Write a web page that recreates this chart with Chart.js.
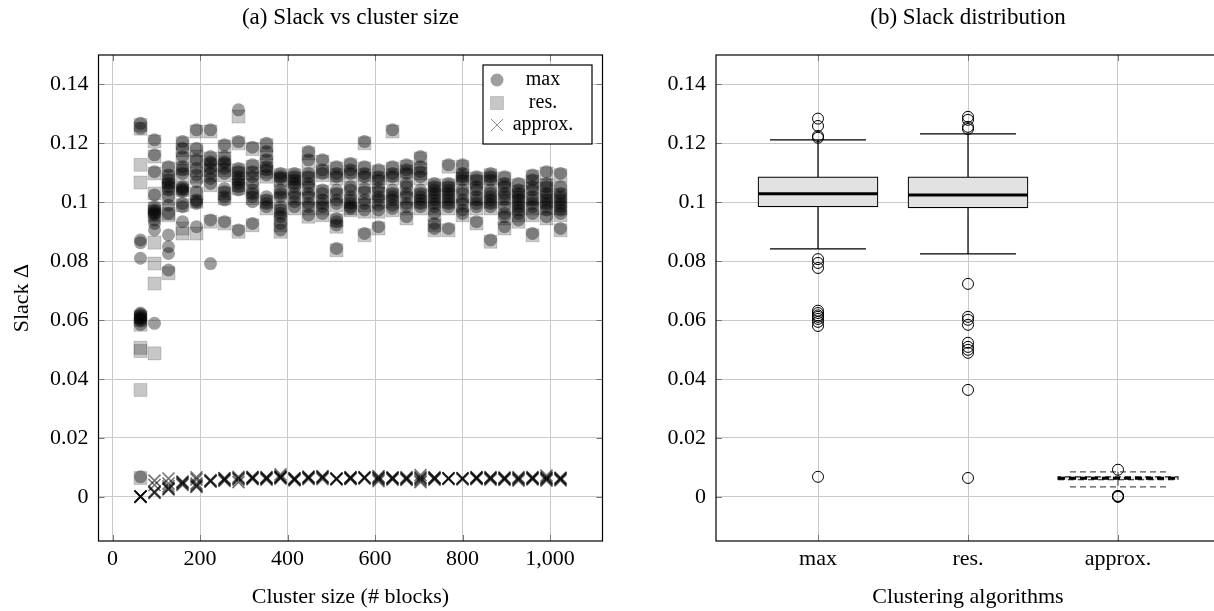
<!DOCTYPE html>
<html><head><meta charset="utf-8">
<script src="https://cdn.jsdelivr.net/npm/chart.js@4/dist/chart.umd.min.js"></script>
<style>
html,body{margin:0;padding:0;background:#fff;overflow:hidden;width:1214px;height:611px;}
#wrapA{position:absolute;left:0;top:0;width:620px;height:611px;}
#wrapB{position:absolute;left:620px;top:0;width:640px;height:611px;}
</style></head><body>
<div id="wrapA"><canvas id="a" width="620" height="611"></canvas></div>
<div id="wrapB"><canvas id="b" width="640" height="611"></canvas></div>
<script>
// ---------- data: (a) slack vs cluster size ----------
const sizes = [64, 96, 128, 160, 192, 224, 256, 288, 320, 352, 384, 416, 448, 480, 512, 544,
               576, 608, 640, 672, 704, 736, 768, 800, 832, 864, 896, 928, 960, 992, 1024];
const maxSlack = [
  [0.1268, 0.1251, 0.0872, 0.0863, 0.0810, 0.0624, 0.0620, 0.0616, 0.0610, 0.0606, 0.0603, 0.0597, 0.0585, 0.0068],
  [0.1212, 0.1161, 0.1104, 0.1025, 0.0985, 0.0974, 0.0968, 0.0962, 0.0957, 0.0940, 0.0928, 0.0906, 0.0589],
  [0.1121, 0.1093, 0.1076, 0.1064, 0.1053, 0.1042, 0.1019, 0.0990, 0.0962, 0.0889, 0.0849, 0.0826, 0.0770],
  [0.1206, 0.1183, 0.1155, 0.1121, 0.1110, 0.1098, 0.1053, 0.1047, 0.1042, 0.1036, 0.0996, 0.0985, 0.0934],
  [0.1246, 0.1183, 0.1144, 0.1115, 0.1093, 0.1070, 0.1036, 0.1008, 0.1002, 0.0996, 0.0917],
  [0.1246, 0.1155, 0.1138, 0.1132, 0.1115, 0.1098, 0.1081, 0.1064, 0.0940, 0.0792],
  [0.1195, 0.1155, 0.1138, 0.1132, 0.1115, 0.1098, 0.1047, 0.1036, 0.1019, 0.1008, 0.0934],
  [0.1314, 0.1206, 0.1115, 0.1104, 0.1087, 0.1075, 0.1064, 0.1053, 0.1042, 0.0906],
  [0.1187, 0.1127, 0.1104, 0.1087, 0.1064, 0.1042, 0.1030, 0.1019, 0.1002, 0.0928],
  [0.1200, 0.1172, 0.1144, 0.1121, 0.1110, 0.1093, 0.1019, 0.1008, 0.0996, 0.0985],
  [0.1098, 0.1087, 0.1081, 0.1042, 0.1030, 0.1019, 0.0985, 0.0974, 0.0962, 0.0951, 0.0928, 0.0906],
  [0.1098, 0.1087, 0.1076, 0.1064, 0.1053, 0.1030, 0.1019, 0.1002, 0.0985],
  [0.1172, 0.1144, 0.1098, 0.1087, 0.1064, 0.1053, 0.1030, 0.1019, 0.0996, 0.0985, 0.0957],
  [0.1144, 0.1110, 0.1098, 0.1042, 0.1030, 0.1008, 0.0996, 0.0985, 0.0962],
  [0.1121, 0.1098, 0.1087, 0.1042, 0.1030, 0.1008, 0.0996, 0.0945, 0.0934, 0.0923, 0.0843],
  [0.1132, 0.1110, 0.1098, 0.1053, 0.1042, 0.1019, 0.1008, 0.0996, 0.0985, 0.0979],
  [0.1206, 0.1121, 0.1098, 0.1087, 0.1047, 0.1036, 0.1008, 0.0996, 0.0974, 0.0894],
  [0.1110, 0.1087, 0.1076, 0.1047, 0.1036, 0.1019, 0.1008, 0.0990, 0.0974, 0.0917],
  [0.1246, 0.1121, 0.1098, 0.1087, 0.1042, 0.1030, 0.1019, 0.1008, 0.0990, 0.0979],
  [0.1127, 0.1110, 0.1098, 0.1064, 0.1053, 0.1030, 0.1019, 0.0996, 0.0985, 0.0951],
  [0.1155, 0.1121, 0.1104, 0.1087, 0.1042, 0.1030, 0.1019, 0.1008, 0.0996, 0.0985],
  [0.1064, 0.1053, 0.1042, 0.1030, 0.1019, 0.1008, 0.0996, 0.0985, 0.0962, 0.0928, 0.0911],
  [0.1127, 0.1064, 0.1053, 0.1042, 0.1030, 0.1019, 0.1008, 0.0996, 0.0985, 0.0911],
  [0.1127, 0.1098, 0.1087, 0.1076, 0.1042, 0.1030, 0.1008, 0.0996, 0.0974, 0.0962],
  [0.1087, 0.1076, 0.1053, 0.1042, 0.1019, 0.1008, 0.0996, 0.0985, 0.0934],
  [0.1098, 0.1087, 0.1076, 0.1042, 0.1030, 0.1019, 0.1008, 0.0996, 0.0985, 0.0872],
  [0.1087, 0.1064, 0.1053, 0.1030, 0.1019, 0.1008, 0.0985, 0.0962, 0.0951, 0.0917],
  [0.1064, 0.1042, 0.1030, 0.1019, 0.1008, 0.0996, 0.0985, 0.0974, 0.0962, 0.0940],
  [0.1093, 0.1076, 0.1053, 0.1042, 0.1019, 0.1008, 0.0996, 0.0985, 0.0962, 0.0894],
  [0.1104, 0.1064, 0.1053, 0.1030, 0.1019, 0.1008, 0.0996, 0.0985, 0.0974, 0.0951],
  [0.1098, 0.1053, 0.1030, 0.1019, 0.1008, 0.0996, 0.0985, 0.0974, 0.0962, 0.0911]
];
const resSlack = [
  [0.1262, 0.1250, 0.1127, 0.1067, 0.0610, 0.0601, 0.0584, 0.0506, 0.0495, 0.0363, 0.0064],
  [0.1206, 0.1155, 0.1098, 0.1030, 0.0979, 0.0968, 0.0957, 0.0863, 0.0792, 0.0724, 0.0487],
  [0.1115, 0.1087, 0.1070, 0.1058, 0.1047, 0.1013, 0.0962, 0.0956, 0.0759],
  [0.1200, 0.1177, 0.1149, 0.1115, 0.1092, 0.1047, 0.1041, 0.0990, 0.0911, 0.0894],
  [0.1240, 0.1177, 0.1155, 0.1138, 0.1109, 0.1087, 0.1030, 0.1002, 0.0894],
  [0.1240, 0.1149, 0.1126, 0.1109, 0.1092, 0.1058, 0.0934],
  [0.1189, 0.1149, 0.1126, 0.1109, 0.1092, 0.1030, 0.1013, 0.0928],
  [0.1291, 0.1200, 0.1109, 0.1098, 0.1081, 0.1058, 0.1047, 0.0900],
  [0.1181, 0.1121, 0.1098, 0.1081, 0.1036, 0.1013, 0.0922],
  [0.1194, 0.1166, 0.1138, 0.1115, 0.1104, 0.1087, 0.1002, 0.0979],
  [0.1092, 0.1081, 0.1075, 0.1036, 0.1013, 0.0968, 0.0945, 0.0922, 0.0900],
  [0.1092, 0.1081, 0.1070, 0.1047, 0.1013, 0.0979],
  [0.1166, 0.1138, 0.1092, 0.1081, 0.1047, 0.1013, 0.0979, 0.0951],
  [0.1138, 0.1104, 0.1092, 0.1036, 0.1002, 0.0979, 0.0956],
  [0.1115, 0.1092, 0.1081, 0.1024, 0.0990, 0.0939, 0.0917, 0.0837],
  [0.1126, 0.1104, 0.1092, 0.1047, 0.1002, 0.0979, 0.0973],
  [0.1200, 0.1115, 0.1092, 0.1081, 0.1030, 0.0990, 0.0968, 0.0888],
  [0.1104, 0.1081, 0.1070, 0.1030, 0.1002, 0.0968, 0.0911],
  [0.1240, 0.1115, 0.1092, 0.1081, 0.1024, 0.1002, 0.0973],
  [0.1121, 0.1104, 0.1092, 0.1047, 0.1013, 0.0979, 0.0945],
  [0.1149, 0.1115, 0.1098, 0.1081, 0.1024, 0.1002, 0.0979],
  [0.1058, 0.1047, 0.1024, 0.1002, 0.0979, 0.0956, 0.0922, 0.0905],
  [0.1121, 0.1058, 0.1047, 0.1024, 0.1002, 0.0979, 0.0905],
  [0.1121, 0.1092, 0.1081, 0.1070, 0.1024, 0.0990, 0.0956],
  [0.1081, 0.1070, 0.1047, 0.1013, 0.0979, 0.0928],
  [0.1092, 0.1081, 0.1070, 0.1024, 0.1002, 0.0979, 0.0866],
  [0.1081, 0.1058, 0.1047, 0.1013, 0.0979, 0.0945, 0.0911],
  [0.1058, 0.1036, 0.1024, 0.1002, 0.0979, 0.0956, 0.0934],
  [0.1087, 0.1070, 0.1047, 0.1013, 0.0979, 0.0956, 0.0888],
  [0.1098, 0.1058, 0.1047, 0.1024, 0.1002, 0.0979, 0.0945],
  [0.1092, 0.1047, 0.1024, 0.1002, 0.0979, 0.0956, 0.0905]
];
const approxSlack = [
  [0.0000, 0.0001, 0.0002, 0.0000, 0.0001],
  [0.0013, 0.0015, 0.0018, 0.0040, 0.0055],
  [0.0025, 0.0027, 0.0030, 0.0036, 0.0045, 0.0062],
  [0.0040, 0.0044, 0.0047, 0.0050, 0.0052],
  [0.0034, 0.0036, 0.0040, 0.0045, 0.0059, 0.0066],
  [0.0051, 0.0053, 0.0055, 0.0057],
  [0.0054, 0.0057, 0.0059, 0.0062, 0.0064],
  [0.0050, 0.0058, 0.0062, 0.0064, 0.0068],
  [0.0060, 0.0062, 0.0064, 0.0066, 0.0068],
  [0.0058, 0.0061, 0.0063, 0.0065, 0.0067],
  [0.0062, 0.0065, 0.0066, 0.0068, 0.0070, 0.0076],
  [0.0056, 0.0058, 0.0060, 0.0062, 0.0064],
  [0.0060, 0.0063, 0.0065, 0.0067, 0.0069],
  [0.0060, 0.0064, 0.0066, 0.0068, 0.0070],
  [0.0059, 0.0060, 0.0062, 0.0063],
  [0.0060, 0.0062, 0.0064, 0.0066, 0.0067],
  [0.0062, 0.0064, 0.0066, 0.0067],
  [0.0053, 0.0058, 0.0061, 0.0064, 0.0066, 0.0070],
  [0.0058, 0.0061, 0.0063, 0.0065, 0.0066],
  [0.0057, 0.0060, 0.0062, 0.0064, 0.0067],
  [0.0050, 0.0056, 0.0060, 0.0064, 0.0067, 0.0074],
  [0.0058, 0.0061, 0.0063, 0.0065, 0.0066],
  [0.0060, 0.0062, 0.0063, 0.0064],
  [0.0059, 0.0061, 0.0063, 0.0064],
  [0.0060, 0.0062, 0.0064, 0.0066, 0.0067],
  [0.0058, 0.0061, 0.0063, 0.0065, 0.0067],
  [0.0057, 0.0060, 0.0062, 0.0064, 0.0066],
  [0.0055, 0.0059, 0.0061, 0.0064, 0.0067],
  [0.0059, 0.0061, 0.0063, 0.0065, 0.0067],
  [0.0055, 0.0059, 0.0061, 0.0064, 0.0066, 0.0072],
  [0.0056, 0.0059, 0.0061, 0.0063, 0.0065]
];
const xTickValues = [0, 200, 400, 600, 800, 1000];
const xTickLabels = ['0', '200', '400', '600', '800', '1,000'];
const yTickValues = [0, 0.02, 0.04, 0.06, 0.08, 0.1, 0.12, 0.14];
const yTickLabels = ['0', '0.02', '0.04', '0.06', '0.08', '0.1', '0.12', '0.14'];
const seriesNames = ['max', 'res.', 'approx.'];

// ---------- data: (b) slack distribution ----------
const boxLabels = ['max', 'res.', 'approx.'];
const boxPos = [1, 2, 3];
const boxQ1 = [0.0984, 0.0981, 0.0058];
const boxMedian = [0.1029, 0.1025, 0.0063];
const boxQ3 = [0.1086, 0.1086, 0.0068];
const whiskerLow = [0.0842, 0.0825, 0.0034];
const whiskerHigh = [0.1212, 0.1232, 0.0085];
const maxOutliers = [0.1284, 0.1259, 0.1225, 0.1219, 0.0807, 0.0794, 0.0777, 0.0632, 0.0624, 0.0616, 0.0611, 0.0604, 0.0594, 0.0580, 0.0068];
const resOutliers = [0.1290, 0.1280, 0.1256, 0.1249, 0.0723, 0.0611, 0.0601, 0.0584, 0.0523, 0.0509, 0.0499, 0.0489, 0.0363, 0.0064];
const approxOutliers = [0.0092, 0.0003, 0.0001, 0.0000, 0.0002];

// ---------- styling ----------
const FONT = "'Liberation Serif', 'Times New Roman', serif";
const GRID = '#c9c9c9';
const Y_MIN = -0.015, Y_MAX = 0.15;
const BOX_HALF = 0.4, CAP_HALF = 0.32;

function flatten(cols) {
  const pts = [];
  cols.forEach((vals, i) => vals.forEach(v => pts.push({ x: sizes[i], y: v })));
  return pts;
}

const framePlugin = {
  id: 'frame',
  afterDatasetsDraw(chart) {
    const { ctx, chartArea: a, scales } = chart;
    ctx.save();
    ctx.strokeStyle = '#777'; ctx.lineWidth = 1;
    ctx.beginPath();
    scales.x.ticks.forEach(t => {
      const px = Math.round(scales.x.getPixelForValue(t.value)) + 0.5;
      ctx.moveTo(px, a.bottom); ctx.lineTo(px, a.bottom - 6);
      ctx.moveTo(px, a.top); ctx.lineTo(px, a.top + 6);
    });
    scales.y.ticks.forEach(t => {
      const py = Math.round(scales.y.getPixelForValue(t.value)) + 0.5;
      ctx.moveTo(a.left, py); ctx.lineTo(a.left + 6, py);
      ctx.moveTo(a.right, py); ctx.lineTo(a.right - 6, py);
    });
    ctx.stroke();
    ctx.strokeStyle = '#000'; ctx.lineWidth = 1.2;
    ctx.strokeRect(a.left, a.top, a.right - a.left, a.bottom - a.top);
    ctx.restore();
  },
  afterDraw(chart, args, opts) {
    if (!opts.title) return;
    const { ctx, chartArea: a } = chart;
    ctx.save();
    ctx.fillStyle = '#000';
    ctx.font = '23px ' + FONT;
    ctx.textAlign = 'center'; ctx.textBaseline = 'middle';
    ctx.fillText(opts.title, (a.left + a.right) / 2, 18);
    ctx.restore();
  }
};

const legendPlugin = {
  id: 'boxLegend',
  afterDraw(chart) {
    const { ctx } = chart;
    const x0 = 483, y0 = 65, w = 109, h = 79;
    ctx.save();
    ctx.fillStyle = '#fff'; ctx.fillRect(x0, y0, w, h);
    ctx.strokeStyle = '#000'; ctx.lineWidth = 1.2; ctx.strokeRect(x0, y0, w, h);
    const rows = [y0 + 15, y0 + 38, y0 + 60];
    const mx = x0 + 14;
    ctx.fillStyle = 'rgba(0,0,0,0.38)';
    ctx.beginPath(); ctx.arc(mx, rows[0], 6.5, 0, Math.PI * 2); ctx.fill();
    ctx.fillStyle = 'rgba(0,0,0,0.22)'; ctx.strokeStyle = 'rgba(0,0,0,0.15)'; ctx.lineWidth = 1;
    ctx.fillRect(mx - 6.5, rows[1] - 6.5, 13, 13); ctx.strokeRect(mx - 6.5, rows[1] - 6.5, 13, 13);
    ctx.strokeStyle = 'rgba(0,0,0,0.45)'; ctx.lineWidth = 1;
    ctx.beginPath();
    ctx.moveTo(mx - 6, rows[2] - 6); ctx.lineTo(mx + 6, rows[2] + 6);
    ctx.moveTo(mx - 6, rows[2] + 6); ctx.lineTo(mx + 6, rows[2] - 6);
    ctx.stroke();
    ctx.fillStyle = '#000'; ctx.font = '20px ' + FONT;
    ctx.textAlign = 'center'; ctx.textBaseline = 'middle';
    seriesNames.forEach((n, i) => ctx.fillText(n, x0 + 60, rows[i]));
    ctx.restore();
  }
};

function yScale(width) {
  return {
    type: 'linear', min: Y_MIN, max: Y_MAX,
    afterBuildTicks: s => { s.ticks = yTickValues.map(v => ({ value: v })); },
    afterFit: s => { s.width = width; },
    ticks: { callback: (v, i) => yTickLabels[i], font: { family: FONT, size: 22 }, color: '#000', padding: 10 },
    grid: { color: GRID, lineWidth: 1, drawTicks: false },
    border: { display: false }
  };
}

// ---------- chart (a) ----------
new Chart(document.getElementById('a'), {
  type: 'scatter',
  data: {
    datasets: [
      { label: 'max', data: flatten(maxSlack), pointStyle: 'circle', pointRadius: 6.5,
        backgroundColor: 'rgba(0,0,0,0.38)', borderColor: 'rgba(0,0,0,0)', borderWidth: 0 },
      { label: 'res.', data: flatten(resSlack), pointStyle: 'rect', pointRadius: 9.2,
        backgroundColor: 'rgba(0,0,0,0.22)', borderColor: 'rgba(0,0,0,0.15)', borderWidth: 1 },
      { label: 'approx.', data: flatten(approxSlack), pointStyle: 'crossRot', pointRadius: 8.5,
        borderColor: 'rgba(0,0,0,0.55)', backgroundColor: 'rgba(0,0,0,0.55)', borderWidth: 1.6 }
    ]
  },
  options: {
    responsive: false, animation: false, events: [],
    layout: { padding: { top: 55, right: 17.5, left: 0, bottom: 0 } },
    plugins: { legend: { display: false }, tooltip: { enabled: false }, frame: { title: '(a) Slack vs cluster size' } },
    scales: {
      x: {
        type: 'linear', min: -32, max: 1120,
        afterBuildTicks: s => { s.ticks = xTickValues.map(v => ({ value: v })); },
        afterFit: s => { s.height = 70; },
        ticks: { callback: (v, i) => xTickLabels[i], font: { family: FONT, size: 22 }, color: '#000', padding: 5, maxRotation: 0, autoSkip: false },
        grid: { color: GRID, lineWidth: 1, drawTicks: false },
        border: { display: false },
        title: { display: true, text: 'Cluster size (# blocks)', font: { family: FONT, size: 22 }, color: '#000', padding: { bottom: 1, top: 0 } }
      },
      y: Object.assign(yScale(98.5), {
        title: { display: true, text: 'Slack Δ', font: { family: FONT, size: 22 }, color: '#000', padding: { top: 9, bottom: 0 } }
      })
    }
  },
  plugins: [framePlugin, legendPlugin]
});

// ---------- chart (b) ----------
function whiskers(idxs) {
  const d = [];
  idxs.forEach(i => {
    const x = boxPos[i];
    d.push({ x, y: boxQ3[i] }, { x, y: whiskerHigh[i] }, { x, y: null });
    d.push({ x: x - CAP_HALF, y: whiskerHigh[i] }, { x: x + CAP_HALF, y: whiskerHigh[i] }, { x, y: null });
    d.push({ x, y: boxQ1[i] }, { x, y: whiskerLow[i] }, { x, y: null });
    d.push({ x: x - CAP_HALF, y: whiskerLow[i] }, { x: x + CAP_HALF, y: whiskerLow[i] }, { x, y: null });
  });
  return d;
}
function medians(idxs) {
  const d = [];
  idxs.forEach(i => {
    d.push({ x: boxPos[i] - BOX_HALF, y: boxMedian[i] }, { x: boxPos[i] + BOX_HALF, y: boxMedian[i] }, { x: boxPos[i], y: null });
  });
  return d;
}
function outline(i) {
  const x = boxPos[i];
  return [{ x: x - BOX_HALF, y: boxQ1[i] }, { x: x + BOX_HALF, y: boxQ1[i] }, { x: x + BOX_HALF, y: boxQ3[i] },
          { x: x - BOX_HALF, y: boxQ3[i] }, { x: x - BOX_HALF, y: boxQ1[i] }];
}
const outlierPts = [];
[maxOutliers, resOutliers, approxOutliers].forEach((arr, i) => arr.forEach(v => outlierPts.push({ x: boxPos[i], y: v })));

const lineBase = { type: 'line', pointRadius: 0, fill: false, spanGaps: false, tension: 0 };

new Chart(document.getElementById('b'), {
  type: 'scatter',
  data: {
    datasets: [
      { type: 'bar', order: 6, data: boxPos.map((x, i) => ({ x, y: [boxQ1[i], boxQ3[i]] })),
        backgroundColor: '#e2e2e2', borderColor: ['#000', '#000', 'rgba(0,0,0,0)'], borderWidth: [1.2, 1.2, 0],
        borderSkipped: false, barThickness: 120, grouped: false },
      Object.assign({}, lineBase, { order: 5, data: outline(2), borderColor: '#222', borderWidth: 1.2, borderDash: [6, 4] }),
      Object.assign({}, lineBase, { order: 4, data: whiskers([0, 1]), borderColor: '#000', borderWidth: 1.2 }),
      Object.assign({}, lineBase, { order: 4, data: whiskers([2]), borderColor: '#555', borderWidth: 1.2, borderDash: [6, 4] }),
      Object.assign({}, lineBase, { order: 3, data: medians([0, 1]), borderColor: '#000', borderWidth: 3 }),
      Object.assign({}, lineBase, { order: 3, data: medians([2]), borderColor: '#000', borderWidth: 3, borderDash: [7, 4] }),
      { type: 'scatter', order: 1, data: outlierPts, pointStyle: 'circle', pointRadius: 5.5,
        backgroundColor: 'rgba(255,255,255,0)', borderColor: '#000', borderWidth: 1 }
    ]
  },
  options: {
    responsive: false, animation: false, events: [],
    layout: { padding: { top: 55, right: 40, left: 0, bottom: 0 } },
    plugins: { legend: { display: false }, tooltip: { enabled: false }, frame: { title: '(b) Slack distribution' } },
    scales: {
      x: {
        type: 'linear', min: 0.32, max: 3.68, offset: false,
        afterBuildTicks: s => { s.ticks = boxPos.map(v => ({ value: v })); },
        afterFit: s => { s.height = 70; },
        ticks: { callback: (v, i) => boxLabels[i], font: { family: FONT, size: 22 }, color: '#000', padding: 5, maxRotation: 0, autoSkip: false },
        grid: { color: GRID, lineWidth: 1, drawTicks: false, offset: false },
        border: { display: false },
        title: { display: true, text: 'Clustering algorithms', font: { family: FONT, size: 22 }, color: '#000', padding: { bottom: 1, top: 0 } }
      },
      y: yScale(96)
    }
  },
  plugins: [framePlugin]
});
</script>
</body></html>
